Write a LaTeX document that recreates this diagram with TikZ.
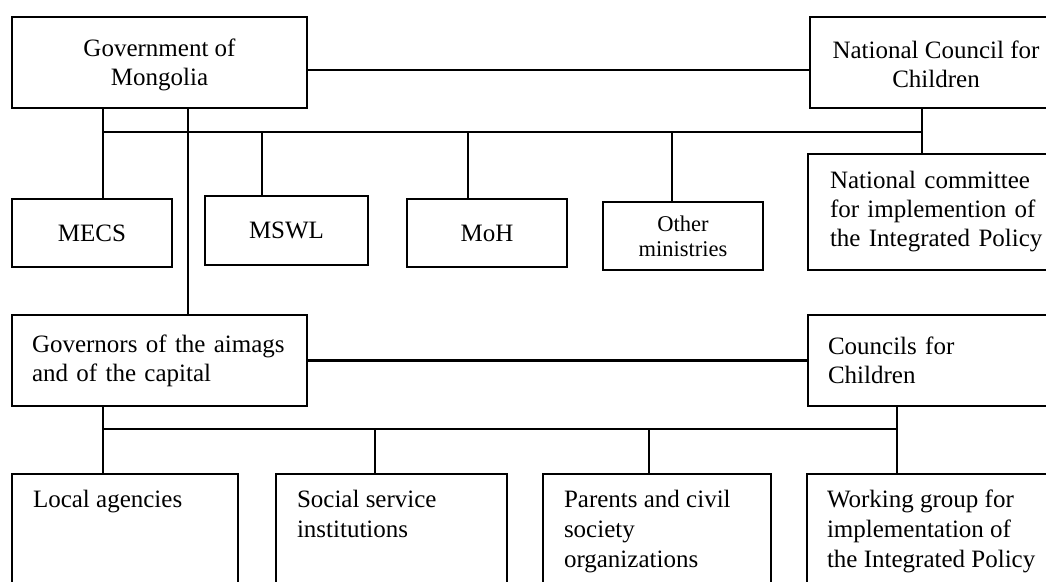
\documentclass[tikz,border=0pt]{standalone}
\usepackage{fontspec}
\setmainfont{Liberation Serif}
\begin{document}
\begin{tikzpicture}[x=1pt,y=1pt,line width=2.8pt]
\tikzstyle{every node}+=[inner sep=0pt,outer sep=0pt]
\tikzstyle{box}=[draw=black,rectangle,anchor=north west,font=\fontsize{25}{29}\selectfont]
\tikzstyle{cbox}=[box,align=center]
\tikzstyle{lbox}=[box,align=left,inner xsep=20pt]
\tikzstyle{txt}=[anchor=north west,align=left,font=\fontsize{25}{30}\selectfont]
\useasboundingbox (0,0) rectangle (1046,-581);
\clip (0,0) rectangle (1046,-581);
% top level
\node[cbox,minimum width=295pt,minimum height=91pt] (gov) at (12,-17) {\rule{0pt}{22pt}Government of\\Mongolia};
\node[cbox,minimum width=252pt,minimum height=91pt] (ncc) at (810,-17) {\rule{0pt}{22pt}National Council for\\Children};
\draw ([yshift=-7.5pt]gov.east) -- ([yshift=-7.5pt]ncc.west);
% ministries
\node[cbox,minimum width=160pt,minimum height=68pt] (mecs) at (12,-199) {MECS};
\node[cbox,minimum width=163pt,minimum height=69pt] (mswl) at (205,-196) {MSWL};
\node[cbox,minimum width=160pt,minimum height=68pt] (moh) at (407,-199) {MoH};
\node[cbox,minimum width=160pt,minimum height=68pt,font=\fontsize{22.5}{25}\selectfont] (other) at (603,-202) {Other\\ministries};
\node[lbox,text width=240pt,minimum height=116pt,inner xsep=22pt] (natcom) at (808,-154) {National committee\\for implemention of\\the Integrated Policy};
\coordinate (tb1) at (103,-132);
\coordinate (tb2) at (262,-132);
\coordinate (tb3) at (468,-132);
\coordinate (tb4) at (672,-132);
\coordinate (tb5) at (922,-132);
\coordinate (tg) at (188,-132);
\draw (tb1) -- (tb5);
\draw (gov.south -| tb1) -- (mecs.north -| tb1);
\draw (tb2) -- (mswl.north -| tb2);
\draw (tb3) -- (moh.north -| tb3);
\draw (tb4) -- (other.north -| tb4);
\draw (ncc.south -| tb5) -- (natcom.north -| tb5);
% local level
\node[lbox,text width=255pt,minimum height=91pt] (governors) at (12,-315) {Governors of the aimags\\and of the capital};
\node[lbox,text width=240pt,minimum height=91pt] (councils) at (808,-315) {Councils for\\Children};
\draw (gov.south -| tg) -- (governors.north -| tg);
\draw (governors.east) -- (councils.west);
\node[box,minimum width=226pt,minimum height=150pt] (local) at (12,-474) {};
\node[box,minimum width=231pt,minimum height=150pt] (social) at (276,-474) {};
\node[box,minimum width=228pt,minimum height=150pt] (parents) at (543,-474) {};
\node[box,minimum width=290pt,minimum height=150pt] (working) at (807,-474) {};
\node[txt] (local-t) at ([xshift=21pt,yshift=-16pt]local.north west) {Local agencies};
\node[txt] (social-t) at ([xshift=21pt,yshift=-16pt]social.north west) {Social service\\institutions};
\node[txt] (parents-t) at ([xshift=21pt,yshift=-16pt]parents.north west) {Parents and civil\\society\\organizations};
\node[txt] (working-t) at ([xshift=20pt,yshift=-16pt]working.north west) {Working group for\\implementation of\\the Integrated Policy};
\coordinate (bb1) at (103,-429);
\coordinate (bb2) at (375,-429);
\coordinate (bb3) at (649,-429);
\coordinate (bb4) at (897,-429);
\draw (bb1) -- (bb4);
\draw (governors.south -| bb1) -- (local.north -| bb1);
\draw (bb2) -- (social.north -| bb2);
\draw (bb3) -- (parents.north -| bb3);
\draw (councils.south -| bb4) -- (working.north -| bb4);
\end{tikzpicture}
\end{document}
